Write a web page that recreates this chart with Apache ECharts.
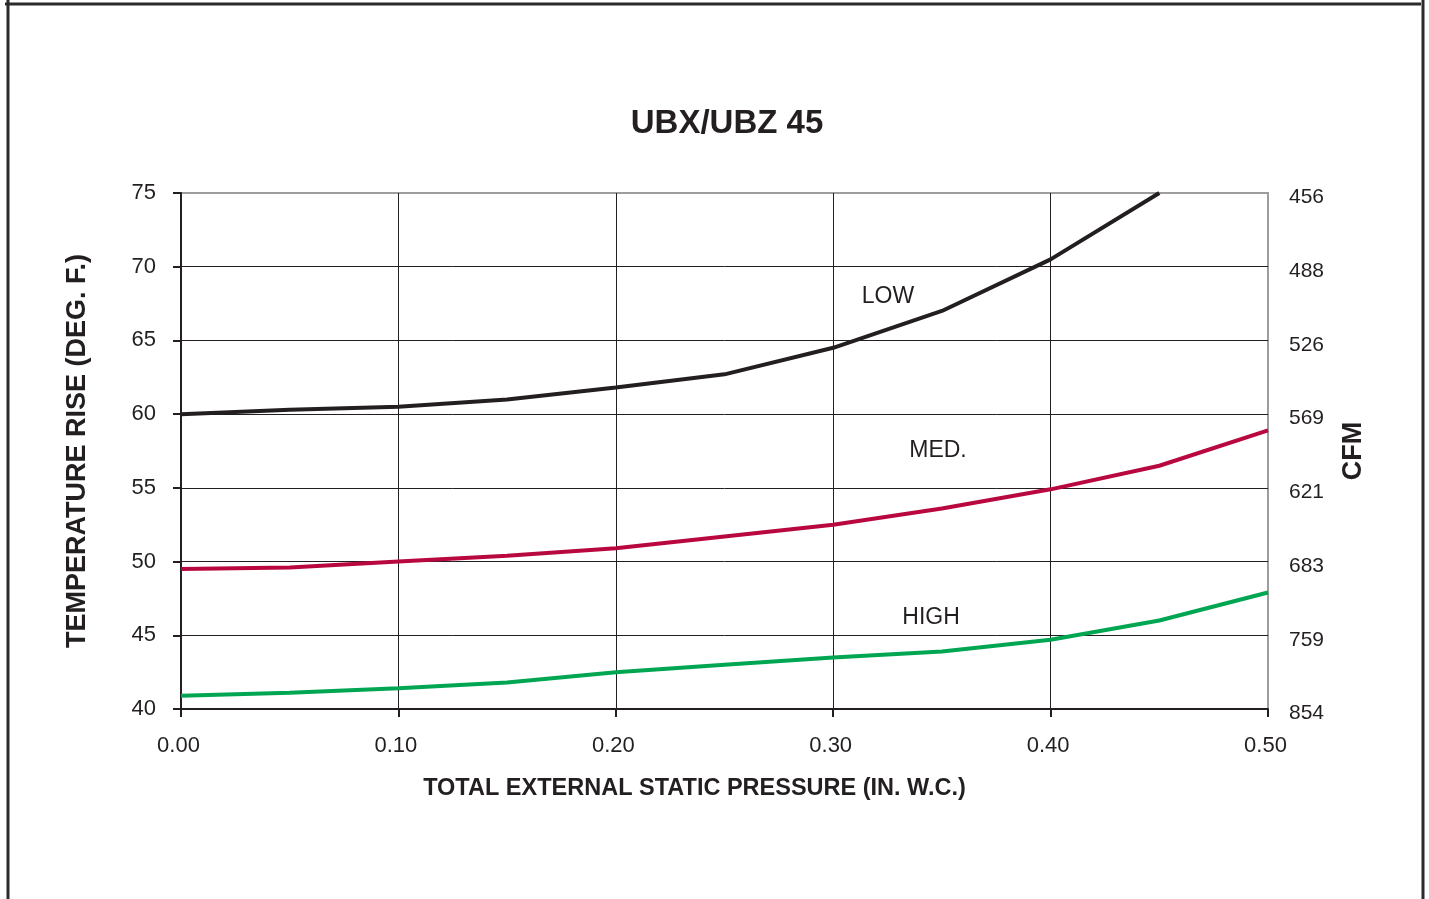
<!DOCTYPE html>
<html><head><meta charset="utf-8">
<script src="https://cdn.jsdelivr.net/npm/echarts@6/dist/echarts.min.js"></script>
<style>html,body{margin:0;padding:0;background:#fff}#c{width:1429px;height:899px}</style>
</head><body><div id="c"></div>
<script>
const pressure = [0.00, 0.05, 0.10, 0.15, 0.20, 0.25, 0.30, 0.35, 0.40, 0.45, 0.50];
const lowRise  = [60.0, 60.3, 60.5, 61.0, 61.8, 62.7, 64.5, 67.0, 70.5, 75.0, null];
const medRise  = [49.5, 49.6, 50.0, 50.4, 50.9, 51.7, 52.5, 53.6, 54.9, 56.5, 58.9];
const highRise = [40.9, 41.1, 41.4, 41.8, 42.5, 43.0, 43.5, 43.9, 44.7, 46.0, 47.9];
const tempTicks = [40, 45, 50, 55, 60, 65, 70, 75];
const cfmLabels = ['854', '759', '683', '621', '569', '526', '488', '456'];
const seriesNames = ['LOW', 'MED.', 'HIGH'];
const labelPos = [[0.3252, 68.0], [0.3482, 57.5], [0.345, 46.2]];

const ink = '#231f20';
const font = 'Liberation Sans, Arial, sans-serif';
const chart = echarts.init(document.getElementById('c'));

function pts(vals) {
  return pressure.map((p, i) => vals[i] == null ? null : [p, vals[i]]).filter(Boolean);
}
function mk(name, vals, color, pos) {
  return {
    name, type: 'line', data: pts(vals), showSymbol: false, symbol: 'none',
    lineStyle: { color, width: 4 }, itemStyle: { color }, z: 5,
    markPoint: {
      symbol: 'rect', symbolSize: 1, itemStyle: { color: 'rgba(0,0,0,0)' },
      label: { show: true, position: 'inside', formatter: name, color: ink, fontSize: 23, fontFamily: font },
      data: [{ coord: pos }]
    }
  };
}

chart.setOption({
  animation: false,
  title: {
    text: 'UBX/UBZ 45', left: 722, top: 102, textAlign: 'center',
    textStyle: { fontSize: 33, fontWeight: 'bold', color: ink, fontFamily: font }
  },
  grid: { left: 181, right: 161, top: 193, bottom: 190, show: true, borderColor: '#9d9d9d', borderWidth: 2 },
  xAxis: {
    type: 'value', min: 0, max: 0.5, interval: 0.1,
    name: 'TOTAL EXTERNAL STATIC PRESSURE (IN. W.C.)', nameLocation: 'middle', nameGap: 68,
    nameTextStyle: { fontSize: 23.5, fontWeight: 'bold', color: ink, fontFamily: font, padding: [0, 60, 0, 0] },
    axisLine: { lineStyle: { color: ink, width: 2 } },
    axisTick: { show: true, length: 8, lineStyle: { color: ink, width: 2 } },
    axisLabel: { formatter: v => v.toFixed(2), fontSize: 22, color: ink, fontFamily: font, margin: 26, padding: [0, 5, 0, 0] },
    splitLine: { show: true, showMinLine: false, showMaxLine: false, lineStyle: { color: ink, width: 1 } }
  },
  yAxis: [{
    type: 'value', min: 40, max: 75, interval: 5,
    name: 'TEMPERATURE RISE (DEG. F.)', nameLocation: 'middle', nameGap: 90,
    nameTextStyle: { fontSize: 27, fontWeight: 'bold', color: ink, fontFamily: font },
    axisLine: { show: true, lineStyle: { color: ink, width: 2 } },
    axisTick: { show: true, length: 8, lineStyle: { color: ink, width: 2 } },
    axisLabel: { fontSize: 22, color: ink, fontFamily: font, margin: 25 },
    splitLine: { show: true, showMinLine: false, showMaxLine: false, lineStyle: { color: ink, width: 1 } }
  }, {
    type: 'value', min: 40, max: 75, interval: 5, position: 'right',
    name: 'CFM', nameLocation: 'middle', nameGap: 72, nameRotate: 90,
    nameTextStyle: { fontSize: 27, fontWeight: 'bold', color: ink, fontFamily: font },
    axisLine: { show: false }, axisTick: { show: false }, splitLine: { show: false },
    axisLabel: {
      fontSize: 21, color: ink, fontFamily: font, margin: 21, verticalAlign: 'top', lineHeight: 9,
      formatter: v => { const i = tempTicks.indexOf(v); return i >= 0 ? cfmLabels[i] : ''; }
    }
  }],
  series: [
    mk(seriesNames[0], lowRise, ink, labelPos[0]),
    mk(seriesNames[1], medRise, '#b8083f', labelPos[1]),
    mk(seriesNames[2], highRise, '#00a651', labelPos[2])
  ],
  graphic: [
    { type: 'line', shape: { x1: 5, y1: 4, x2: 1421, y2: 4 }, style: { stroke: '#2b2b2b', lineWidth: 3 } },
    { type: 'line', shape: { x1: 8, y1: 0, x2: 8, y2: 899 }, style: { stroke: '#2b2b2b', lineWidth: 3 } },
    { type: 'line', shape: { x1: 1423, y1: 0, x2: 1423, y2: 899 }, style: { stroke: '#2b2b2b', lineWidth: 3 } }
  ]
});
</script></body></html>
